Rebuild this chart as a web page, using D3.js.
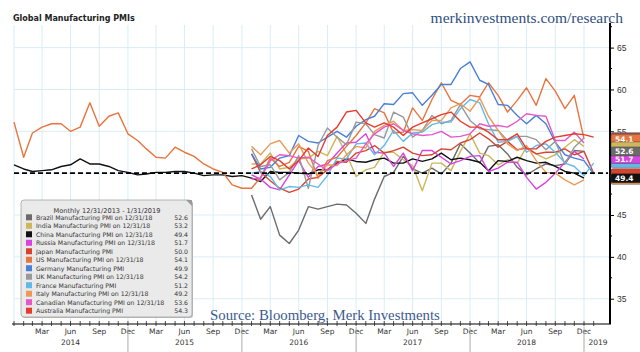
<!DOCTYPE html>
<html>
<head>
<meta charset="utf-8">
<script src="https://cdn.jsdelivr.net/npm/d3@7"></script>
<style>
  body { margin: 0; background: #fff; }
  svg { display: block; font-family: "DejaVu Sans", Verdana, sans-serif; }
</style>
</head>
<body>
<svg id="chart" width="640" height="352"></svg>
<script>
// ---- data (monthly) ----
const legendLabels = [
  "Brazil Manufacturing PMI on 12/31/18",
  "India Manufacturing PMI on 12/31/18",
  "China Manufacturing PMI on 12/31/18",
  "Russia Manufacturing PMI on 12/31/18",
  "Japan Manufacturing PMI",
  "US Manufacturing PMI on 12/31/18",
  "Germany Manufacturing PMI",
  "UK Manufacturing PMI on 12/31/18",
  "France Manufacturing PMI",
  "Italy Manufacturing PMI on 12/31/18",
  "Canadian Manufacturing PMI on 12/31/18",
  "Australia Manufacturing PMI"
];
const lastValues = [52.6, 53.2, 49.4, 51.7, 50.0, 54.1, 49.9, 54.2, 51.2, 49.2, 53.6, 54.3];
const seriesColors = ["#6b6b6b", "#cdb65c", "#111111", "#d944e0", "#d8432e", "#e8743f",
                      "#4a7fd6", "#999999", "#62b9e8", "#eb9a57", "#e657c8", "#e63b2e"];
// first month of each series
const seriesStart = ["2016-01", "2016-01", "2013-12", "2016-01", "2016-01", "2013-12",
                     "2016-01", "2016-01", "2016-01", "2016-01", "2016-01", "2016-01"];

const brazil = [47.4, 44.5, 46.0, 42.6, 41.6, 43.2, 46.0, 45.7, 46.0, 46.3, 46.2, 45.2,
                44.0, 46.9, 49.6, 50.1, 52.0, 50.5, 50.0, 50.6, 49.9, 51.2, 53.5, 52.4,
                51.2, 53.2, 53.4, 52.3, 50.7, 49.8, 50.5, 51.1, 50.9, 51.1, 52.7, 52.6];
const india = [51.1, 51.1, 52.4, 50.5, 50.7, 51.7, 51.8, 52.6, 52.1, 54.4, 52.3, 49.6,
               50.4, 50.7, 52.5, 52.5, 51.6, 50.9, 47.9, 51.2, 51.2, 50.3, 52.6, 54.7,
               52.4, 52.1, 51.0, 51.6, 51.2, 53.1, 52.3, 51.7, 52.2, 53.1, 54.0, 53.2];
const china = [51.0,
               50.5, 50.2, 50.3, 50.4, 50.8, 51.0, 51.7, 51.1, 51.1, 50.8, 50.3, 50.1,
               49.8, 49.9, 50.1, 50.1, 50.2, 50.2, 50.0, 49.7, 49.8, 49.8, 49.6, 49.7,
               49.4, 49.0, 50.2, 50.1, 50.1, 50.0, 49.9, 50.4, 50.4, 51.2, 51.7, 51.4,
               51.3, 51.6, 51.8, 51.2, 51.2, 51.7, 51.4, 51.7, 52.4, 51.6, 51.8, 51.6,
               51.3, 50.3, 51.5, 51.4, 51.9, 51.5, 51.2, 51.3, 50.8, 50.2, 50.0, 49.4];
const russia = [49.8, 49.3, 48.3, 48.0, 49.8, 51.5, 49.5, 50.8, 51.1, 52.4, 53.6, 53.7,
                54.7, 52.5, 52.4, 50.8, 52.4, 50.3, 52.7, 52.7, 51.9, 51.1, 51.5, 52.0,
                52.1, 50.2, 50.6, 51.3, 51.3, 49.5, 48.1, 48.9, 50.0, 51.3, 52.6, 51.7];
const japan = [52.3, 50.1, 49.1, 48.2, 47.7, 48.1, 49.3, 49.5, 50.4, 51.4, 51.3, 52.4,
               52.7, 53.3, 52.4, 52.7, 53.1, 52.4, 52.1, 52.2, 52.9, 52.8, 53.6, 54.0,
               54.8, 54.1, 53.1, 53.8, 52.8, 53.0, 52.3, 52.5, 52.5, 52.9, 52.2, 52.6,
               50.0];
const us = [56.1,
            51.9, 54.8, 55.5, 55.9, 55.9, 55.0, 55.5, 58.4, 55.6, 56.8, 57.2, 54.7,
            53.9, 52.9, 51.9, 51.8, 53.1, 52.5, 52.0, 51.1, 50.5, 50.1, 48.6, 48.2,
            48.2, 49.5, 51.8, 50.8, 51.3, 53.2, 52.6, 49.4, 51.5, 51.9, 53.2, 54.5,
            56.0, 57.7, 57.2, 54.8, 54.9, 57.8, 56.3, 58.8, 60.8, 58.7, 58.2, 59.3,
            59.1, 60.8, 59.3, 57.3, 58.7, 60.2, 58.1, 61.3, 59.8, 57.7, 59.3, 54.1];
const germany = [52.3, 50.5, 50.7, 51.8, 52.1, 54.5, 53.8, 53.6, 54.3, 55.0, 54.3, 55.6,
                 56.4, 56.8, 58.3, 58.2, 59.5, 59.6, 58.1, 59.3, 60.6, 60.6, 62.5, 63.3,
                 61.1, 60.6, 58.2, 58.1, 56.9, 55.9, 56.9, 55.9, 53.7, 52.2, 51.8, 51.5,
                 49.9];
const uk = [52.9, 50.8, 51.0, 49.2, 50.1, 52.1, 48.2, 53.3, 55.4, 54.3, 53.4, 56.1,
            55.9, 54.6, 54.2, 57.3, 56.7, 54.3, 55.1, 56.9, 55.9, 56.3, 58.2, 56.3,
            55.3, 55.2, 55.1, 53.9, 54.4, 54.4, 54.0, 52.8, 53.8, 51.1, 53.1, 54.2];
const france = [50.0, 50.2, 49.6, 48.0, 48.4, 48.3, 48.6, 48.3, 49.7, 51.8, 51.7, 53.5,
                53.6, 52.2, 53.3, 55.1, 53.8, 54.8, 54.9, 55.8, 56.1, 56.1, 57.7, 58.8,
                58.4, 55.9, 53.7, 53.8, 54.4, 52.5, 53.3, 53.5, 52.5, 51.2, 50.8, 49.7,
                51.2];
const italy = [53.2, 52.2, 53.5, 53.9, 52.4, 53.5, 51.2, 49.8, 51.0, 50.9, 52.2, 53.2,
               53.0, 55.0, 55.7, 56.2, 55.1, 55.2, 55.1, 56.3, 56.3, 57.8, 58.3, 57.4,
               59.0, 56.8, 55.1, 53.5, 52.7, 53.3, 51.5, 50.1, 50.0, 49.2, 48.6, 49.2];
const canada = [49.3, 49.4, 51.5, 52.2, 52.1, 51.8, 51.9, 51.1, 50.3, 51.1, 51.5, 51.8,
                53.5, 54.7, 55.5, 55.9, 55.1, 54.7, 54.5, 54.6, 55.0, 54.3, 54.4, 54.7,
                55.9, 55.6, 55.7, 55.5, 56.2, 57.1, 56.9, 56.8, 53.9, 53.9, 54.9, 53.6];
const australia = [50.5, 51.0, 52.0, 51.5, 50.5, 51.5, 53.0, 52.0, 54.5, 55.5, 57.3, 57.5,
                   56.0, 55.5, 56.0, 55.5, 54.5, 55.5, 56.0, 56.5, 57.0, 57.3, 56.2, 55.5,
                   55.5, 54.9, 54.0, 54.0, 54.7, 52.9, 52.9, 53.8, 54.3, 54.5, 54.7, 54.6,
                   54.3];
const seriesValues = [brazil, india, china, russia, japan, us, germany, uk, france, italy, canada, australia];

const yTicks = [35, 40, 45, 50, 55, 60, 65];
const quarterNames = ["Dec", "Mar", "Jun", "Sep"];  // label of the quarter ending before Jan/Apr/Jul/Oct 1
const years = [2014, 2015, 2016, 2017, 2018, 2019];

// ---- layout ----
const svg = d3.select("#chart");
const plot = { left: 14, right: 610, top: 25, bottom: 323 };

const x = d3.scaleTime()
  .domain([new Date(2014, 0, 1), new Date(2019, 0, 1)])
  .range([14, 584]);
const y = d3.scaleLinear()
  .domain([32.1, 67.7])
  .range([plot.bottom, plot.top]);

const parseMonth = d3.timeParse("%Y-%m");

// gridlines (quarter starts, every 5 points)
const quarters = d3.timeMonth.every(3).range(new Date(2014, 0, 1), new Date(2019, 1, 1));
svg.append("g")
  .selectAll("line")
  .data(quarters)
  .join("line")
  .attr("x1", (d) => x(d)).attr("x2", (d) => x(d))
  .attr("y1", plot.top).attr("y2", plot.bottom)
  .attr("stroke", "#d9edf5").attr("stroke-width", 1);

svg.append("g")
  .selectAll("line")
  .data(yTicks)
  .join("line")
  .attr("x1", plot.left).attr("x2", plot.right)
  .attr("y1", (d) => y(d)).attr("y2", (d) => y(d))
  .attr("stroke", "#d9edf5").attr("stroke-width", 1);

// lines
const line = d3.line()
  .x((d) => x(d.date))
  .y((d) => y(d.value));

const series = seriesValues.map((vals, i) => {
  const start = parseMonth(seriesStart[i]);
  return vals.map((v, j) => ({ date: d3.timeMonth.offset(start, j + 1), value: v }));
});

svg.append("g")
  .selectAll("path")
  .data(series)
  .join("path")
  .attr("d", line)
  .attr("fill", "none")
  .attr("stroke", (d, i) => seriesColors[i])
  .attr("stroke-width", 1.4)
  .attr("stroke-linejoin", "round");

// 50 reference line
svg.append("line")
  .attr("x1", plot.left).attr("x2", plot.right - 2)
  .attr("y1", y(50)).attr("y2", y(50))
  .attr("stroke", "#000").attr("stroke-width", 1.8)
  .attr("stroke-dasharray", "5,3");

// y axis (right)
const yAxis = svg.append("g")
  .attr("transform", `translate(${plot.right},0)`)
  .call(d3.axisRight(y).tickValues(yTicks).tickSize(4).tickPadding(3));
yAxis.select(".domain").remove();
yAxis.selectAll("text").attr("font-size", 8.5).attr("fill", "#333");
yAxis.selectAll("line").attr("stroke", "#000");
svg.append("g")
  .selectAll("line")
  .data(d3.range(35, 67.6, 2.5).filter((v) => v % 5 !== 0))
  .join("line")
  .attr("x1", plot.right).attr("x2", plot.right + 2)
  .attr("y1", (d) => y(d)).attr("y2", (d) => y(d))
  .attr("stroke", "#000");
svg.append("line")
  .attr("x1", plot.right).attr("x2", plot.right)
  .attr("y1", plot.top - 2).attr("y2", plot.bottom + 1)
  .attr("stroke", "#000").attr("stroke-width", 2);

// x axis
svg.append("line")
  .attr("x1", 12).attr("x2", plot.right + 1)
  .attr("y1", 324).attr("y2", 324)
  .attr("stroke", "#000").attr("stroke-width", 1.2);
const monthTicks = d3.timeMonth.range(new Date(2014, 0, 1), new Date(2019, 2, 1));
svg.append("g")
  .selectAll("line")
  .data(monthTicks)
  .join("line")
  .attr("x1", (d) => x(d)).attr("x2", (d) => x(d))
  .attr("y1", 321).attr("y2", 326)
  .attr("stroke", "#222").attr("stroke-width", 0.8);

const labelTicks = quarters.filter((d) => d > new Date(2014, 0, 1));
svg.append("g")
  .selectAll("text")
  .data(labelTicks)
  .join("text")
  .attr("x", (d) => x(d))
  .attr("y", 334)
  .attr("text-anchor", "middle")
  .attr("font-size", 7.5)
  .attr("fill", "#333")
  .text((d) => quarterNames[d.getMonth() / 3]);

svg.append("g")
  .selectAll("line")
  .data(years.slice(1))
  .join("line")
  .attr("x1", (d) => x(new Date(d, 0, 1))).attr("x2", (d) => x(new Date(d, 0, 1)))
  .attr("y1", 327).attr("y2", 352)
  .attr("stroke", "#aaa").attr("stroke-width", 1);

svg.append("g")
  .selectAll("text")
  .data(years)
  .join("text")
  .attr("x", (d) => (d === 2019 ? x(new Date(2019, 1, 15)) : x(new Date(d, 6, 1))))
  .attr("y", 345)
  .attr("text-anchor", "middle")
  .attr("font-size", 7.5)
  .attr("fill", "#333")
  .text((d) => d);

// last value tags on the right axis (later ones drawn on top)
const tagOrder = d3.range(lastValues.length).reverse();
// a tag's label is only written when no later tag sits over it
const tagVisible = tagOrder.map((i, k) =>
  !tagOrder.slice(k + 1).some((j) => Math.abs(y(lastValues[j]) - y(lastValues[i])) < 6));
const tags = svg.append("g")
  .selectAll("g")
  .data(tagOrder)
  .join("g")
  .attr("transform", (i) => `translate(${plot.right + 1},${y(lastValues[i]) - 4.5})`);
tags.append("rect")
  .attr("width", 30).attr("height", 9).attr("rx", 1.5)
  .attr("fill", (i) => seriesColors[i])
  .attr("stroke", "#333").attr("stroke-width", 0.4);
tags.filter((i, k) => tagVisible[k])
  .append("text")
  .attr("x", 4).attr("y", 7.2)
  .attr("font-size", 7.5)
  .attr("font-weight", "bold")
  .attr("fill", "#fff")
  .text((i) => lastValues[i].toFixed(1));

// legend
const legend = svg.append("g");
legend.append("rect")
  .attr("x", 22).attr("y", 201).attr("width", 171).attr("height", 117).attr("rx", 3)
  .attr("fill", "#bbb");
legend.append("rect")
  .attr("x", 21).attr("y", 200).attr("width", 171).attr("height", 117).attr("rx", 3)
  .attr("fill", "#eaeaea").attr("stroke", "#a5a5a5").attr("stroke-width", 0.8);
legend.append("path")
  .attr("d", "M186,200 L192,200 L192,206 Z")
  .attr("fill", "#9a9a9a");
legend.append("text")
  .attr("x", 107).attr("y", 212.5)
  .attr("text-anchor", "middle")
  .attr("font-size", 6.6)
  .attr("fill", "#333")
  .text("Monthly 12/31/2013 - 1/31/2019");
const rows = legend.selectAll("g.row")
  .data(legendLabels)
  .join("g")
  .attr("class", "row")
  .attr("transform", (d, i) => `translate(0,${217.3 + i * 8.49})`);
rows.append("rect")
  .attr("x", 26).attr("y", -3).attr("width", 6).attr("height", 6)
  .attr("fill", (d, i) => seriesColors[i]);
rows.append("text")
  .attr("x", 36).attr("y", 2.3)
  .attr("font-size", 6.2)
  .attr("fill", "#333")
  .text((d) => d);
rows.append("text")
  .attr("x", 188).attr("y", 2.3)
  .attr("text-anchor", "end")
  .attr("font-size", 6.2)
  .attr("fill", "#333")
  .text((d, i) => lastValues[i].toFixed(1));

// titles
svg.append("text")
  .attr("x", 13).attr("y", 21)
  .attr("font-size", 8)
  .attr("font-weight", "bold")
  .attr("fill", "#222")
  .text("Global Manufacturing PMIs");
svg.append("text")
  .attr("x", 623).attr("y", 23)
  .attr("text-anchor", "end")
  .attr("font-family", "'Liberation Serif', 'Times New Roman', serif")
  .attr("font-size", 15.5)
  .attr("fill", "#2f4f80")
  .text("merkinvestments.com/research");
svg.append("text")
  .attr("x", 210).attr("y", 320)
  .attr("font-family", "'Liberation Serif', 'Times New Roman', serif")
  .attr("font-size", 14.8)
  .attr("fill", "#3b5b8d")
  .text("Source: Bloomberg, Merk Investments");
</script>
</body>
</html>
